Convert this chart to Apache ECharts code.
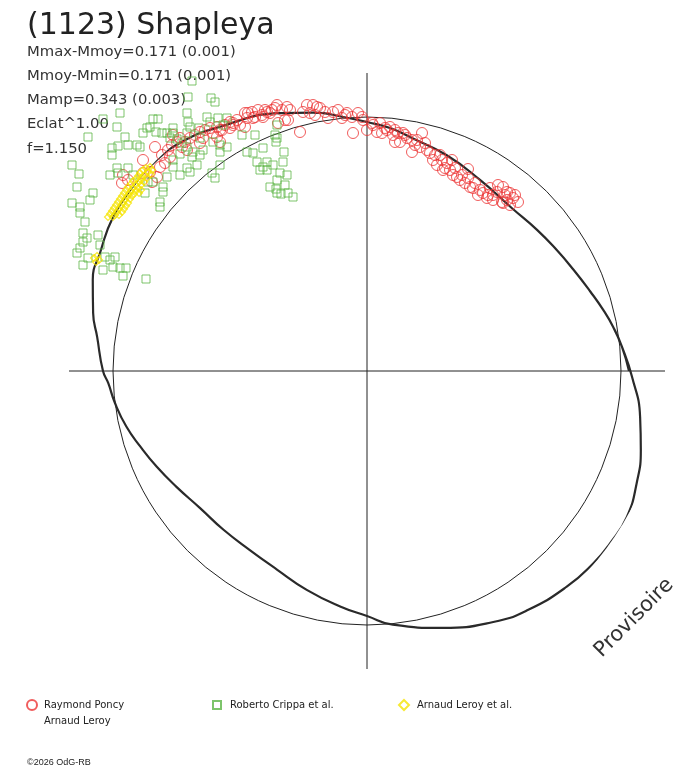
<!DOCTYPE html>
<html>
<head>
<meta charset="utf-8">
<title>(1123) Shapleya</title>
<script src="https://cdn.jsdelivr.net/npm/echarts@6.0.0/dist/echarts.min.js"></script>
<style>
  html, body { margin: 0; padding: 0; background: #fff; }
  #main { width: 688px; height: 768px; }
</style>
</head>
<body>
<div id="main"></div>
<script>
// courbe modele (polaire) : angle de phase en degres, rayon
// les deux premieres lectures sont reprises apres 360 pour fermer la boucle sans angle
var curveAngles = [0, 5.5, 10.2, 14.5, 19.6, 26.1, 32.5, 39.7, 48.4, 59.4, 69.7, 78.8, 84.6, 90, 94.5,
  101.8, 108.6, 121, 129.4, 135.8, 141.8, 148.8, 156, 161.6, 168, 172.8, 180, 182.7, 187.3, 193, 198.4,
  204.5, 211.3, 219.4, 227.9, 236.8, 245.6, 254.6, 263.5, 270, 275.8, 286.5, 296.7, 303.8, 312.8,
  319.6, 324.7, 330.7, 337.5, 343.9, 350.4, 358.8, 365.5, 370.2];
var curveRadii = [262, 256, 250, 244, 237, 230, 225, 221, 218, 222, 230, 237, 244, 249, 254,
  264, 272, 285, 295, 298, 298, 297, 292, 289, 280, 272, 264, 259, 254, 247, 239,
  231, 223, 216, 214, 214, 218, 227, 237, 245, 255, 268, 281, 288, 294,
  297, 298, 298, 292, 285, 277, 265, 256, 250];

// rayon du cercle moyen
var meanRadius = 254;
var axisRadius = 298;

// Raymond Poncy / Arnaud Leroy
var redPoints = [
  [-212,224],[-205,216],[-199,221],[-195,226],[-197,214],[-202,208],[-207,204],[-224,211],[-224,198],[-217,199],
  [-244,196],[-239,191],[-245,188],[-210,194],[-215,189],[-190,229],[-185,224],[-182,229],[-177,233],[-172,236],
  [-167,239],[-162,241],[-164,233],[-157,243],[-154,238],[-150,244],[-145,241],[-142,246],[-137,249],[-137,243],
  [-130,251],[-127,246],[-122,258],[-120,253],[-115,259],[-112,254],[-109,261],[-105,256],[-102,261],[-97,258],
  [-92,263],[-90,266],[-85,261],[-80,264],[-89,248],[-167,228],[-180,221],[-187,233],[-194,236],[-119,258],
  [-114,253],[-104,254],[-100,259],[-95,261],[-79,251],[-77,261],[-67,239],[-64,259],[-60,266],[-57,258],
  [-54,266],[-52,256],[-47,263],[-42,259],[-39,253],[-34,259],[-29,261],[-25,253],[-20,258],[-15,254],
  [-14,238],[-9,258],[-4,251],[0,241],[6,246],[10,239],[-134,246],[-122,244],[-82,251],[-50,264],
  [-22,256],[-5,254],[5,248],[13,248],[15,238],[20,241],[23,244],[26,236],[31,238],[36,238],
  [28,229],[33,229],[40,233],[45,231],[50,231],[55,238],[45,219],[53,224],[60,221],[63,218],
  [68,216],[66,211],[70,206],[75,211],[80,208],[85,211],[76,201],[83,201],[86,196],[90,194],
  [101,202],[93,191],[98,188],[103,184],[106,183],[113,181],[101,193],[116,178],[121,176],[126,176],
  [131,186],[136,184],[140,179],[143,178],[146,173],[151,169],[140,171],[135,169],[120,173],[126,171],
  [143,166],[136,168],[18,243],[28,241],[38,236],[48,226],[58,228],[73,216],[78,203],[88,203],
  [95,196],[108,188],[111,176],[123,183],[130,179],[138,176],[148,176],[-150,234],[-147,229],[-134,248],
  [-147,241]
];

// Roberto Crippa et al.
var greenPoints = [
  [-175,290],[-179,274],[-156,273],[-152,269],[-180,258],[-179,249],[-177,244],[-180,238],[-264,252],[-247,258],
  [-250,244],[-214,252],[-209,252],[-220,243],[-211,239],[-217,244],[-205,238],[-200,238],[-194,238],[-194,243],
  [-168,243],[-160,254],[-157,249],[-149,253],[-140,253],[-144,246],[-279,234],[-340,234],[-242,234],[-224,238],
  [-239,226],[-230,226],[-227,224],[-249,225],[-255,223],[-255,216],[-307,216],[-342,215],[-327,209],[-310,205],
  [-304,205],[-295,206],[-288,197],[-354,199],[-197,233],[-190,232],[-185,228],[-180,224],[-167,233],[-154,229],
  [-147,226],[-164,221],[-147,219],[-140,224],[-174,219],[-175,214],[-187,217],[-167,216],[-194,211],[-170,206],
  [-180,203],[-155,198],[-147,206],[-125,236],[-112,236],[-120,219],[-114,218],[-90,246],[-92,236],[-90,233],
  [-91,229],[-104,223],[-83,219],[-110,209],[-100,209],[-104,204],[-100,201],[-94,206],[-107,201],[-84,209],
  [-87,198],[-80,196],[-90,191],[-97,184],[-91,182],[-82,186],[-90,178],[-86,177],[-79,178],[-74,174],
  [-250,203],[-249,198],[-257,196],[-239,203],[-234,196],[-219,189],[-214,189],[-200,194],[-187,196],[-177,199],
  [-194,204],[-222,178],[-204,179],[-204,184],[-207,164],[-207,169],[-152,193],[-290,184],[-274,178],[-277,171],
  [-325,172],[-350,177],[-342,164],[-309,168],[-295,168],[-287,164],[-320,157],[-305,159],[-287,158],[-305,143],
  [-282,149],[-284,138],[-280,133],[-284,129],[-269,136],[-287,123],[-290,118],[-267,126],[-279,113],[-284,106],
  [-262,114],[-252,114],[-257,111],[-264,101],[-254,104],[-247,103],[-241,103],[-244,95],[-221,92]
];

// Arnaud Leroy et al.
var yellowPoints = [
  [-217,204],[-221,203],[-215,201],[-224,201],[-219,199],[-227,198],[-222,196],[-216,197],[-229,195],[-225,194],
  [-220,193],[-231,192],[-226,191],[-234,190],[-228,189],[-223,189],[-236,187],[-231,186],[-226,186],[-239,184],
  [-234,183],[-229,183],[-241,181],[-236,180],[-231,180],[-226,181],[-243,178],[-238,177],[-233,177],[-228,178],
  [-245,175],[-240,174],[-235,175],[-247,172],[-242,171],[-237,172],[-249,169],[-244,168],[-239,168],[-251,166],
  [-246,165],[-241,165],[-253,163],[-248,162],[-243,162],[-255,160],[-250,159],[-245,159],[-257,157],[-252,156],
  [-259,154],[-254,154],[-248,156],[-273,113],[-270,115],[-268,111],[-271,109]
];

var statLines = [
  'Mmax-Mmoy=0.171 (0.001)',
  'Mmoy-Mmin=0.171 (0.001)',
  'Mamp=0.343 (0.003)',
  'Eclat^1.00',
  'f=1.150'
];

var curveData = curveAngles.map(function (a, i) { return [curveRadii[i], a]; });

var chart = echarts.init(document.getElementById('main'), null, { renderer: 'canvas' });

var nameRed = 'Raymond Poncy\nArnaud Leroy';
var nameGreen = 'Roberto Crippa et al.';
var nameYellow = 'Arnaud Leroy et al.';

var legendText = { fontFamily: 'DejaVu Sans', fontSize: 10, color: '#222', lineHeight: 16 };

var graphics = [
  {
    type: 'text', x: 27, y: 26, z: 0,
    style: { text: '(1123) Shapleya', font: '30px "DejaVu Sans"', fill: '#222',
      align: 'left', verticalAlign: 'middle', textAlign: 'left', textVerticalAlign: 'middle' }
  },
  {
    type: 'text', x: 634, y: 618, rotation: Math.PI / 4, z: 0,
    style: { text: 'Provisoire', font: '21px "DejaVu Sans"', fill: '#333',
      align: 'center', verticalAlign: 'middle', textAlign: 'center', textVerticalAlign: 'middle' }
  },
  {
    type: 'text', x: 27, y: 763, z: 0,
    style: { text: '\u00a92026 OdG-RB', font: '9px "Liberation Sans"', fill: '#222',
      align: 'left', verticalAlign: 'middle', textAlign: 'left', textVerticalAlign: 'middle' }
  }
];
statLines.forEach(function (t, i) {
  graphics.push({
    type: 'text', x: 27, y: 52 + i * 24.2, z: 0,
    style: { text: t, font: '14.8px "DejaVu Sans"', fill: '#333',
      align: 'left', verticalAlign: 'middle', textAlign: 'left', textVerticalAlign: 'middle' }
  });
});

var option = {
  animation: false,
  backgroundColor: '#fff',
  polar: { center: [367, 371], radius: axisRadius },
  angleAxis: {
    type: 'value', min: 0, max: 360, interval: 90, startAngle: 0, clockwise: false,
    axisLine: { show: false }, axisTick: { show: false }, axisLabel: { show: false },
    splitLine: { show: true, lineStyle: { color: '#222', width: 1 } }
  },
  radiusAxis: {
    type: 'value', min: 0, max: axisRadius, interval: meanRadius,
    axisLine: { show: false }, axisTick: { show: false }, axisLabel: { show: false },
    splitLine: { show: true, lineStyle: { color: ['rgba(0,0,0,0)', '#222', 'rgba(0,0,0,0)'], width: 1 } }
  },
  grid: { left: 367 - axisRadius, top: 371 - axisRadius, width: axisRadius * 2, height: axisRadius * 2 },
  xAxis: { type: 'value', min: -axisRadius, max: axisRadius, show: false },
  yAxis: { type: 'value', min: -axisRadius, max: axisRadius, show: false },
  legend: [
    {
      // ligne vide en tete pour aligner la premiere ligne sur le symbole
      data: [nameRed], left: 26, top: 681, padding: 0, icon: 'circle', itemWidth: 10, itemHeight: 10,
      formatter: function (n) { return ' \n' + n; },
      textStyle: Object.assign({}, legendText, { padding: [0, 0, 0, 2] })
    },
    {
      data: [nameGreen], left: 212, top: 697, padding: 0, icon: 'rect', itemWidth: 8, itemHeight: 8,
      textStyle: Object.assign({}, legendText, { padding: [0, 0, 0, 4] })
    },
    {
      data: [nameYellow], left: 398, top: 697, padding: 0, icon: 'diamond', itemWidth: 10, itemHeight: 10,
      textStyle: Object.assign({}, legendText, { padding: [0, 0, 0, 3] })
    }
  ],
  graphic: graphics,
  series: [
    {
      type: 'line', coordinateSystem: 'polar', data: curveData, smooth: 0.5, symbol: 'none',
      lineStyle: { color: '#2a2a2a', width: 2.2 }, silent: true, z: 3, clip: false
    },
    {
      name: nameRed, type: 'scatter', data: redPoints, symbol: 'circle', symbolSize: 11, z: 4,
      itemStyle: { color: 'rgba(0,0,0,0)', borderColor: '#ec3434', borderWidth: 1 }
    },
    {
      name: nameGreen, type: 'scatter', data: greenPoints, symbol: 'rect', symbolSize: 8, z: 4,
      itemStyle: { color: 'rgba(0,0,0,0)', borderColor: '#5cb546', borderWidth: 1 }
    },
    {
      name: nameYellow, type: 'scatter', data: yellowPoints, symbol: 'diamond', symbolSize: 7, z: 5,
      itemStyle: { color: 'rgba(0,0,0,0)', borderColor: '#f5e400', borderWidth: 1.2 }
    }
  ]
};

chart.setOption(option);
</script>
</body>
</html>
